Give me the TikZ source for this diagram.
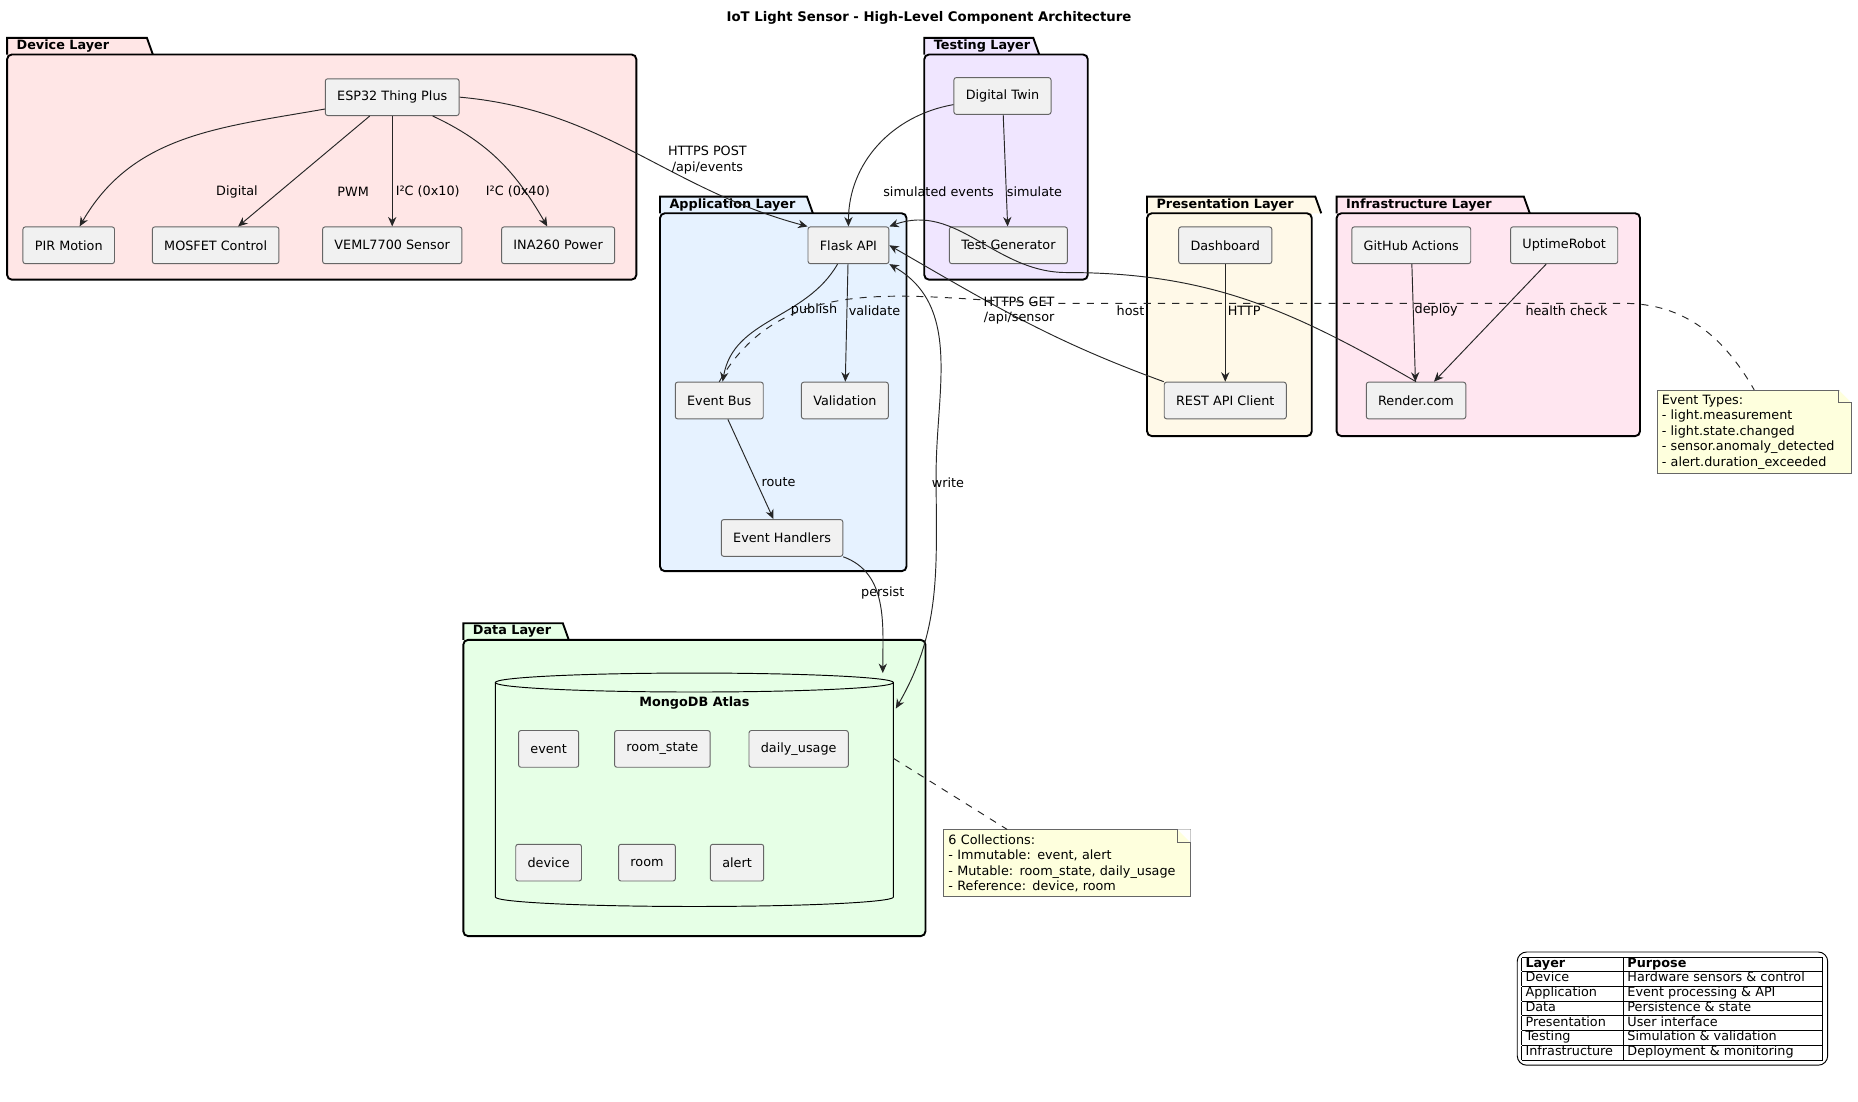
\documentclass[tikz,border=0pt]{standalone}
\usepackage{fontspec}
\setmainfont{DejaVu Sans}
\usetikzlibrary{arrows.meta,shapes.geometric,shapes.misc}
\definecolor{nodefill}{HTML}{F1F1F1}
\definecolor{notefill}{HTML}{FEFFDD}
\definecolor{cdev}{HTML}{FFE6E6}
\definecolor{ctest}{HTML}{F0E6FF}
\definecolor{capp}{HTML}{E6F2FF}
\definecolor{cpres}{HTML}{FFF9E8}
\definecolor{cinf}{HTML}{FFE6F0}
\definecolor{cdata}{HTML}{E6FFE6}
\newcommand\pkgbox[7]{%
  \fill[#6] (#1,#2-14) -- (#1+#5,#2-14) -- (#1+#5+5,#2) -- (#3,#2) -- (#3,#4) -- (#1,#4) -- cycle;
  \draw[thick] (#1,#2) -- (#1,#2-14) -- (#1+#5,#2-14) -- (#1+#5+5,#2);
  \draw[thick,rounded corners=2] (#1,#2) rectangle (#3,#4);
  \node[anchor=west,font=\fontsize{5.4}{6.5}\selectfont\bfseries] at (#1+1,#2-7) {#7};}
\begin{document}
\begin{tikzpicture}[x=0.5pt,y=-0.5pt,font=\fontsize{5.4}{6.5}\selectfont,
  box/.style={draw=black!60,fill=nodefill,rounded corners=1,minimum height=15.5pt,inner xsep=5pt},
  arr/.style={-{Stealth[length=4pt,width=3.5pt]},black!85},
  lbl/.style={inner sep=1pt,align=center},
  note/.style={draw=black!60,fill=notefill,align=left,anchor=north west,inner sep=2pt,
     text width=#1}]
\useasboundingbox (0,0) rectangle (1568,930);
\node[font=\fontsize{5.6}{7}\selectfont\bfseries] (title) at (784,15) {IoT Light Sensor - High-Level Component Architecture};
% packages
\pkgbox{6}{46}{537}{236}{118}{cdev}{Device Layer}
\pkgbox{780}{46}{918}{236}{92}{ctest}{Testing Layer}
\pkgbox{557}{180}{765}{482}{124}{capp}{Application Layer}
\pkgbox{968}{180}{1107}{368}{142}{cpres}{Presentation Layer}
\pkgbox{1128}{180}{1384}{368}{158}{cinf}{Infrastructure Layer}
\pkgbox{391}{540}{781}{790}{84}{cdata}{Data Layer}
% nodes
\node[box] (esp) at (331,82) {ESP32 Thing Plus};
\node[box] (pir) at (58,207) {PIR Motion};
\node[box] (mos) at (182,207) {MOSFET Control};
\node[box] (veml) at (331,207) {VEML7700 Sensor};
\node[box] (ina) at (471,207) {INA260 Power};
\node[box] (twin) at (846,81) {Digital Twin};
\node[box] (tgen) at (851,207) {Test Generator};
\node[box] (flask) at (716,207) {Flask API};
\node[box] (bus) at (607,338) {Event Bus};
\node[box] (val) at (713,338) {Validation};
\node[box] (hand) at (660,454) {Event Handlers};
\node[box] (dash) at (1034,207) {Dashboard};
\node[box] (rest) at (1034,338) {REST API Client};
\node[box] (gha) at (1191,207) {GitHub Actions};
\node[box] (upt) at (1320,207) {UptimeRobot};
\node[box] (render) at (1195,338) {Render.com};
% database
\draw[fill=cdata] (418,576) arc[start angle=180,end angle=360,x radius=168,y radius=8] -- (754,757)
   arc[start angle=0,end angle=180,x radius=168,y radius=8] -- cycle;
\draw (418,576) arc[start angle=180,end angle=0,x radius=168,y radius=8];
\coordinate (mongoR) at (756,598);
\coordinate (mongoT) at (745,568);
\coordinate (mongoN) at (754,640);
\node[font=\fontsize{5.4}{6.5}\selectfont\bfseries] (mtitle) at (586,593) {MongoDB Atlas};
\node[box] (cev) at (463,632) {event};
\node[box] (crs) at (559,632) {room\_state};
\node[box] (cdu) at (674,632) {daily\_usage};
\node[box] (cdv) at (463,728) {device};
\node[box] (crm) at (546,728) {room};
\node[box] (cal) at (622,728) {alert};
% notes
\node[note=78pt] (n1) at (1398,329) {Event Types:\\- light.measurement\\- light.state.changed\\- sensor.anomaly\_detected\\- alert.duration\_exceeded};
\node[note=100pt] (n2) at (796,700) {6 Collections:\\- Immutable: event, alert\\- Mutable: room\_state, daily\_usage\\- Reference: device, room};
\fill[white] (n1.north east) ++(-11,0) -- (n1.north east) -- ++(0,11) -- cycle;
\draw[black!60] (n1.north east) ++(-11,0) -- ++(0,11) -- ++(11,0);
\fill[white] (n2.north east) ++(-11,0) -- (n2.north east) -- ++(0,11) -- cycle;
\draw[black!60] (n2.north east) ++(-11,0) -- ++(0,11) -- ++(11,0);
% edges
\draw[arr] (esp) to[out=190,in=60] (pir);
\node[lbl] at (200,162) {Digital};
\draw[arr] (esp) -- (mos);
\node[lbl] at (298,162) {PWM};
\draw[arr] (esp) -- (veml);
\node[lbl] at (361,162) {I²C (0x10)};
\draw[arr] (esp) to[out=-25,in=120] (ina);
\node[lbl] at (437,162) {I²C (0x40)};
\draw[arr] (esp.east) to[out=-5,in=165] (flask.north west);
\node[lbl] at (597,135) {HTTPS POST\\/api/events};
\draw[arr] (twin) to[out=190,in=90] (flask.north);
\node[lbl] at (792,162) {simulated events};
\draw[arr] (twin) -- (tgen);
\node[lbl] at (873,162) {simulate};
\draw[arr] (flask) to[out=240,in=80] (bus);
\node[lbl] at (687,262) {publish};
\draw[arr] (flask) -- (val);
\node[lbl] at (738,262) {validate};
\draw[arr] (bus) -- (hand);
\node[lbl] at (657,407) {route};
\draw[arr] (hand.south east) to[out=-20,in=90] (mongoT);
\node[lbl] at (745,500) {persist};
\draw[{Stealth[length=4pt,width=3.5pt]}-{Stealth[length=4pt,width=3.5pt]},black!85] (flask.south east) to[out=-30,in=90] (790,400) to[out=-90,in=60] (mongoR);
\node[lbl] at (800,407) {write};
\draw[arr] (rest.north west) to[out=160,in=-30] (flask.east);
\node[lbl] at (860,262) {HTTPS GET\\/api/sensor};
\draw[arr] (render.north) to[out=150,in=0] (900,230) to[out=180,in=20] (flask.north east);
\node[lbl] at (954,262) {host};
\draw[arr] (dash) -- (rest);
\node[lbl] at (1050,262) {HTTP};
\draw[arr] (gha) -- (render);
\node[lbl] at (1212,262) {deploy};
\draw[arr] (upt) -- (render);
\node[lbl] at (1322,262) {health check};
\draw[dashed,black!85] (bus.north) to[out=60,in=180] (900,256) -- (1370,256) to[out=0,in=120] (n1.north);
\draw[dashed,black!85] (mongoN) -- (850,700);
% legend
\node[draw,rounded corners=4,inner sep=2pt,anchor=north west,font=\fontsize{5.4}{6}\selectfont] (legend) at (1280,803) {%
\setlength{\tabcolsep}{1.5pt}\renewcommand{\arraystretch}{0.95}%
\begin{tabular}{|p{40pt}|p{81pt}|}\hline
\textbf{Layer} & \textbf{Purpose}\\\hline
Device & Hardware sensors \& control\\\hline
Application & Event processing \& API\\\hline
Data & Persistence \& state\\\hline
Presentation & User interface\\\hline
Testing & Simulation \& validation\\\hline
Infrastructure & Deployment \& monitoring\\\hline
\end{tabular}};
\end{tikzpicture}
\end{document}
